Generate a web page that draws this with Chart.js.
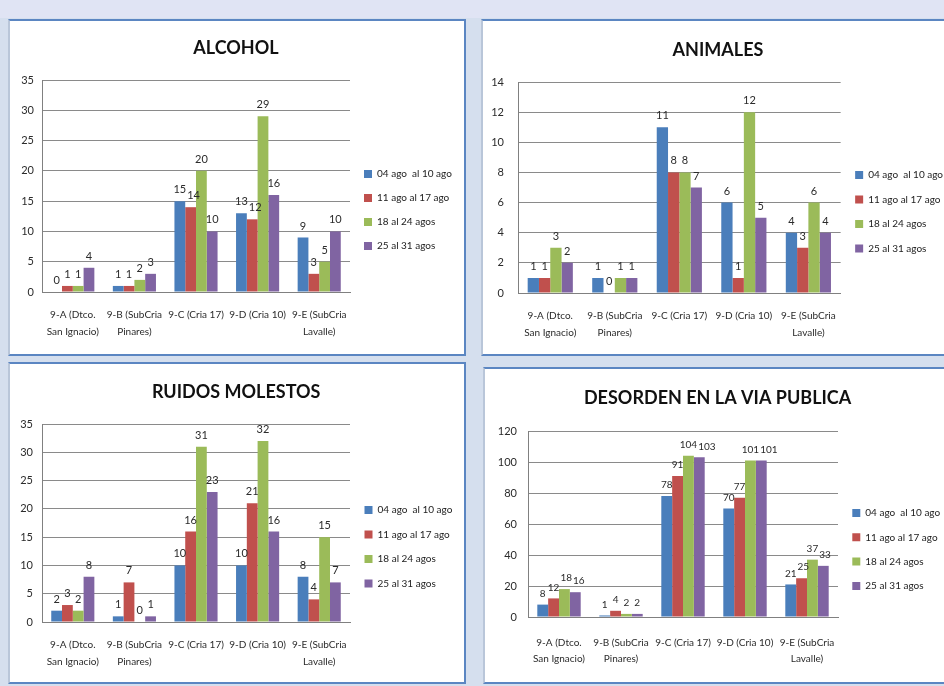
<!DOCTYPE html>
<html>
<head>
<meta charset="utf-8">
<script src="https://cdn.jsdelivr.net/npm/chart.js@4.4.1/dist/chart.umd.min.js"></script>
<style>
html,body{margin:0;padding:0;width:944px;height:686px;overflow:hidden;background:#d5dfee;}
#topband{position:absolute;left:0;top:0;width:944px;height:18px;background:#e0e4f4;}
.panel{position:absolute;background:#fff;border:2px solid #5b86c2;border-left-color:#b9c6d9;}
.panel canvas{display:block;}
</style>
</head>
<body>
<div id="topband"></div>
<div class="panel" style="left:8px;top:19px;"><canvas id="cAlcohol" width="454" height="333"></canvas></div>
<div class="panel" style="left:481px;top:19px;"><canvas id="cAnimales" width="470" height="333"></canvas></div>
<div class="panel" style="left:8px;top:362px;"><canvas id="cRuidos" width="454" height="318"></canvas></div>
<div class="panel" style="left:483px;top:367px;"><canvas id="cDesorden" width="466" height="313"></canvas></div>
<script>
// ---- data ----
const categories = [["9-A (Dtco.", "San Ignacio)"], ["9-B (SubCria", "Pinares)"], "9-C (Cria 17)", "9-D (Cria 10)", ["9-E (SubCria", "Lavalle)"]];
const seriesNames = ["04 ago  al 10 ago", "11 ago al 17 ago", "18 al 24 agos", "25 al 31 agos"];

const alcohol04to10 = [0, 1, 15, 13, 9];
const alcohol11to17 = [1, 1, 14, 12, 3];
const alcohol18to24 = [1, 2, 20, 29, 5];
const alcohol25to31 = [4, 3, 10, 16, 10];

const animales04to10 = [1, 1, 11, 6, 4];
const animales11to17 = [1, 0, 8, 1, 3];
const animales18to24 = [3, 1, 8, 12, 6];
const animales25to31 = [2, 1, 7, 5, 4];

const ruidos04to10 = [2, 1, 10, 10, 8];
const ruidos11to17 = [3, 7, 16, 21, 4];
const ruidos18to24 = [2, 0, 31, 32, 15];
const ruidos25to31 = [8, 1, 23, 16, 7];

const desorden04to10 = [8, 1, 78, 70, 21];
const desorden11to17 = [12, 4, 91, 77, 25];
const desorden18to24 = [18, 2, 104, 101, 37];
const desorden25to31 = [16, 2, 103, 101, 33];

const alcoholTicks = [0, 35, 5];
const animalesTicks = [0, 14, 2];
const ruidosTicks = [0, 35, 5];
const desordenTicks = [0, 120, 20];

// ---- style ----
const seriesColors = ["#4a7ebb", "#c0504d", "#9bbb59", "#8064a2"];
Chart.defaults.font.family = "Lato, 'Open Sans', sans-serif";
Chart.defaults.color = "#2b2b2b";

// value labels above bars; a label that would collide with its left neighbour is nudged right
const valueLabels = {
  id: "valueLabels",
  afterDatasetsDraw(chart, args, opts) {
    const ctx = chart.ctx;
    const size = opts.size || 11;
    const h = size;
    ctx.save();
    ctx.font = size + "px Lato, sans-serif";
    ctx.fillStyle = "#2b2b2b";
    ctx.textAlign = "center";
    ctx.textBaseline = "bottom";
    const n = chart.data.labels.length;
    for (let j = 0; j < n; j++) {
      const placed = [];
      chart.data.datasets.forEach((ds, i) => {
        const bar = chart.getDatasetMeta(i).data[j];
        const txt = String(ds.data[j]);
        const w = ctx.measureText(txt).width;
        let x = bar.x;
        const yb = bar.y - 6;
        for (const p of placed) {
          const l = x - w / 2, r = x + w / 2;
          if (l < p.r && r > p.l && yb > p.t && yb - h < p.b) {
            x = p.r + 1 + w / 2;
          }
        }
        placed.push({ l: x - w / 2, r: x + w / 2, t: yb - h, b: yb });
        ctx.fillText(txt, x, yb);
      });
    }
    ctx.restore();
  }
};

function makeChart(id, title, series, ticks, g) {
  const canvas = document.getElementById(id);
  const W = canvas.width, H = canvas.height;
  const legendPad = g.legendGap - 10;
  const chart = new Chart(canvas, {
    type: "bar",
    data: {
      labels: categories,
      datasets: series.map((s, i) => ({
        label: seriesNames[i],
        data: s,
        backgroundColor: seriesColors[i],
        borderWidth: 0,
        categoryPercentage: 0.7,
        barPercentage: 1.0
      }))
    },
    options: {
      responsive: false,
      animation: false,
      devicePixelRatio: 1,
      layout: { padding: { left: 0, right: 0, top: 0, bottom: 0 } },
      plugins: {
        title: {
          display: true,
          text: title,
          color: "#111",
          font: { size: 18, weight: "bold", lineHeight: 1.2 },
          padding: { top: g.titleY - 10.8, bottom: g.plotTop - g.titleY - 10.8 }
        },
        legend: {
          display: true,
          position: "right",
          align: "start",
          title: { display: true, text: " ", font: { size: 10, lineHeight: 1.2 }, padding: { top: 0, bottom: g.legendTop - legendPad - 12 } },
          labels: { boxWidth: 8, boxHeight: 8, padding: legendPad, color: "#222", font: { size: 10 } }
        },
        tooltip: { enabled: false },
        valueLabels: { size: g.labelSize }
      },
      scales: {
        x: {
          grid: { display: false, drawTicks: false },
          border: { display: true, color: "#808080" },
          ticks: { autoSkip: false, maxRotation: 0, minRotation: 0, padding: g.xPad, color: "#2b2b2b", font: { size: 10, lineHeight: g.lineH } },
          afterFit(scale) { scale.height = H - g.plotBottom; }
        },
        y: {
          min: ticks[0], max: ticks[1],
          grid: { color: "#8a8a8a", drawTicks: false, lineWidth: 1 },
          border: { display: true, color: "#808080" },
          ticks: { stepSize: ticks[2], padding: g.yPad, color: "#2b2b2b", font: { size: 11 } },
          afterFit(scale) { scale.width = g.plotLeft; }
        }
      }
    },
    plugins: [valueLabels]
  });
  // reserve the free space right of the legend so the plot ends where the reference plot ends
  const spare = W - g.plotRight - chart.legend.width;
  if (spare > 0) {
    chart.options.layout.padding.right = spare;
    chart.update();
  }
  return chart;
}

makeChart("cAlcohol", "ALCOHOL", [alcohol04to10, alcohol11to17, alcohol18to24, alcohol25to31], alcoholTicks,
  { plotLeft: 32, plotRight: 340, plotTop: 59, plotBottom: 271, titleY: 27, legendTop: 148, legendGap: 24, xPad: 15, yPad: 8, lineH: 1.65, labelSize: 11 });
makeChart("cAnimales", "ANIMALES", [animales04to10, animales11to17, animales18to24, animales25to31], animalesTicks,
  { plotLeft: 35, plotRight: 359, plotTop: 61, plotBottom: 272, titleY: 29, legendTop: 149, legendGap: 24.5, xPad: 15, yPad: 14, lineH: 1.65, labelSize: 11 });
makeChart("cRuidos", "RUIDOS MOLESTOS", [ruidos04to10, ruidos11to17, ruidos18to24, ruidos25to31], ruidosTicks,
  { plotLeft: 32, plotRight: 340, plotTop: 60, plotBottom: 258, titleY: 28, legendTop: 141, legendGap: 24.5, xPad: 15, yPad: 9, lineH: 1.65, labelSize: 11 });
makeChart("cDesorden", "DESORDEN EN LA VIA PUBLICA", [desorden04to10, desorden11to17, desorden18to24, desorden25to31], desordenTicks,
  { plotLeft: 43, plotRight: 353, plotTop: 62, plotBottom: 248, titleY: 29, legendTop: 139, legendGap: 24.3, xPad: 18, yPad: 11, lineH: 1.6, labelSize: 10 });
</script>
</body>
</html>
